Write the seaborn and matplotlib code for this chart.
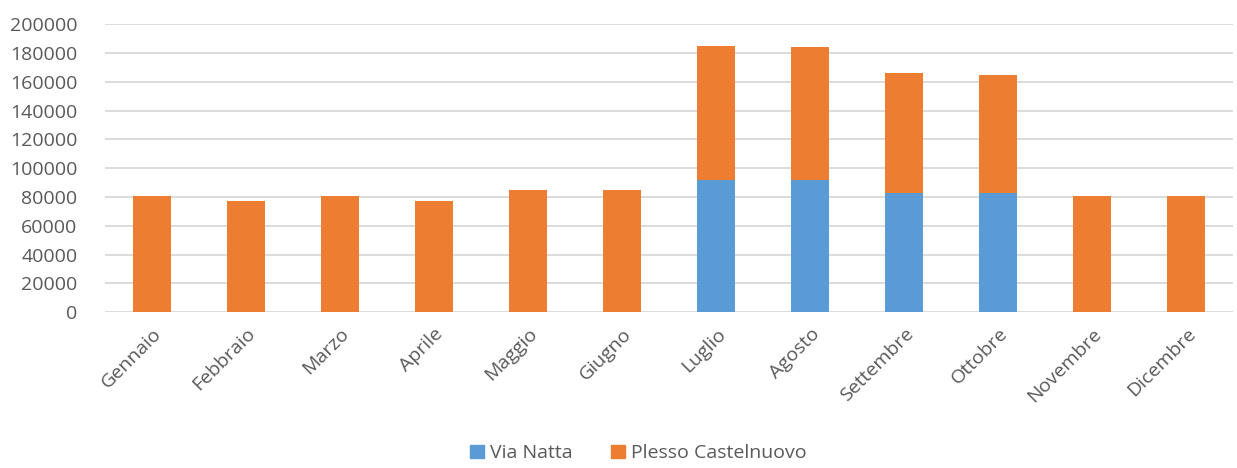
import pandas as pd
import matplotlib.pyplot as plt
import seaborn as sns
from matplotlib.patches import Patch

# Data
mesi = ['Gennaio', 'Febbraio', 'Marzo', 'Aprile', 'Maggio', 'Giugno',
        'Luglio', 'Agosto', 'Settembre', 'Ottobre', 'Novembre', 'Dicembre']
via_natta = [0, 0, 0, 0, 0, 0, 92000, 92000, 82500, 82500, 0, 0]
plesso_castelnuovo = [81000, 77000, 81000, 77000, 85000, 85000,
                      93000, 92000, 83500, 82000, 81000, 81000]

df = pd.DataFrame({'mese': mesi, 'Via Natta': via_natta,
                   'Plesso Castelnuovo': plesso_castelnuovo})
df['totale'] = df['Via Natta'] + df['Plesso Castelnuovo']

blu = '#5b9bd5'
arancio = '#ed7d31'
grigio = '#595959'

sns.set_style("white")
plt.rcParams['font.family'] = ['Open Sans', 'DejaVu Sans']

fig = plt.figure(figsize=(12.37, 4.68), dpi=100)
ax = fig.add_axes([0.085, 0.333, 0.912, 0.615])

# stacked: total in orange, then Via Natta in blue at the bottom
sns.barplot(data=df, x='mese', y='totale', color=arancio, width=0.4,
            saturation=1, linewidth=0, ax=ax)
sns.barplot(data=df, x='mese', y='Via Natta', color=blu, width=0.4,
            saturation=1, linewidth=0, ax=ax)

ax.set_ylim(0, 200000)
ax.set_yticks(range(0, 200001, 20000))
ax.set_xlim(-0.5, 11.5)
ax.yaxis.grid(True, color='#d9d9d9', linewidth=1.3)
ax.set_axisbelow(True)
for s in ax.spines.values():
    s.set_visible(False)
ax.set_xlabel('')
ax.set_ylabel('')
ax.tick_params(axis='both', length=0, colors=grigio, labelsize=14)
ax.tick_params(axis='y', pad=20)
plt.setp(ax.get_xticklabels(), rotation=45, ha='right', rotation_mode='anchor')
ax.tick_params(axis='x', pad=9)

handles = [Patch(color=blu, label='Via Natta'),
           Patch(color=arancio, label='Plesso Castelnuovo')]
leg = fig.legend(handles=handles, loc='lower center', ncol=2, frameon=False,
                 bbox_to_anchor=(0.516, -0.025), fontsize=14, handlelength=0.7,
                 handleheight=0.7, handletextpad=0.3, columnspacing=2.0)
for t in leg.get_texts():
    t.set_color(grigio)

fig.savefig('out.png', dpi=100)
